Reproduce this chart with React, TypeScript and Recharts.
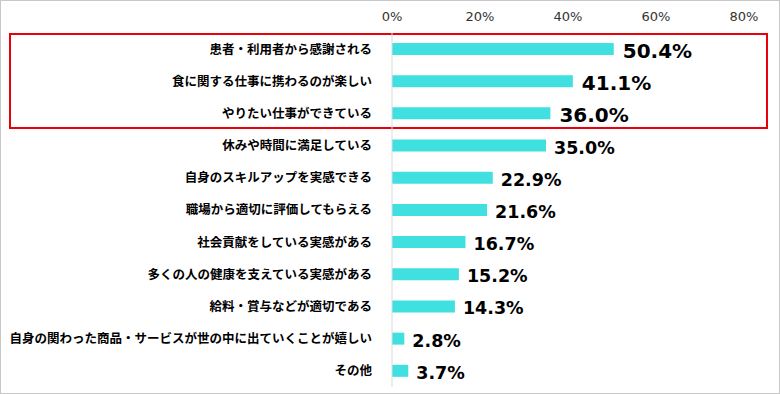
import { BarChart, Bar, XAxis, YAxis, LabelList, Customized } from "recharts";

const categories = [
  "患者・利用者から感謝される",
  "食に関する仕事に携わるのが楽しい",
  "やりたい仕事ができている",
  "休みや時間に満足している",
  "自身のスキルアップを実感できる",
  "職場から適切に評価してもらえる",
  "社会貢献をしている実感がある",
  "多くの人の健康を支えている実感がある",
  "給料・賞与などが適切である",
  "自身の関わった商品・サービスが世の中に出ていくことが嬉しい",
  "その他",
];
const values = [50.4, 41.1, 36.0, 35.0, 22.9, 21.6, 16.7, 15.2, 14.3, 2.8, 3.7];
const xTicks = [0, 20, 40, 60, 80];
const highlighted = 3;

const data = categories.map((name, i) => ({ name, value: values[i] }));

const ValueLabel = (props: any) => {
  const { x, y, width, height, value, index } = props;
  const big = index < highlighted;
  return (
    <text
      x={x + width + (big ? 9 : 8)}
      y={y + height / 2 + 2}
      dominantBaseline="central"
      fontFamily="DejaVu Sans"
      fontWeight="bold"
      fontSize={big ? 20 : 17.5}
      fill="#000"
    >
      {value.toFixed(1)}%
    </text>
  );
};

const Highlight = (props: any) => {
  const { yAxisMap } = props;
  const axis: any = yAxisMap ? Object.values(yAxisMap)[0] : null;
  let top = 34;
  let bottom = 128;
  if (axis && axis.scale) {
    const bw = axis.scale.bandwidth ? axis.scale.bandwidth() : 32;
    top = axis.scale(categories[0]) + 1;
    bottom = axis.scale(categories[highlighted - 1]) + bw - 2;
  }
  return <rect x={10} y={top} width={757} height={bottom - top} fill="none" stroke="#e8000b" strokeWidth={2} />;
};

export default function App() {
  return (
    <div style={{ position: "fixed", left: 0, top: 0, width: 780, height: 394, background: "#fff" }}>
      <div style={{ position: "absolute", inset: 0, border: "1px solid #c8c8c8", boxSizing: "border-box", pointerEvents: "none" }} />
      <BarChart
        width={780}
        height={394}
        data={data}
        layout="vertical"
        margin={{ top: 3, right: 36, bottom: 7, left: 0 }}
      >
        <XAxis
          type="number"
          orientation="top"
          domain={[0, 80]}
          ticks={xTicks}
          tickFormatter={(v) => `${v}%`}
          axisLine={false}
          tickLine={false}
          height={30}
          tick={{ fontSize: 13, fontFamily: "DejaVu Sans", fill: "#333", dy: -4 }}
        />
        <YAxis
          type="category"
          dataKey="name"
          width={392}
          axisLine={{ stroke: "#d9d9d9" }}
          tickLine={false}
          tickMargin={14}
          interval={0}
          tick={{ fontSize: 12.5, fontFamily: "Noto Sans CJK JP", fontWeight: "bold", fill: "#000" }}
        />
        <Bar dataKey="value" fill="#40e0e0" barSize={12} isAnimationActive={false}>
          <LabelList dataKey="value" content={<ValueLabel />} />
        </Bar>
        <Customized component={Highlight} />
      </BarChart>
    </div>
  );
}
